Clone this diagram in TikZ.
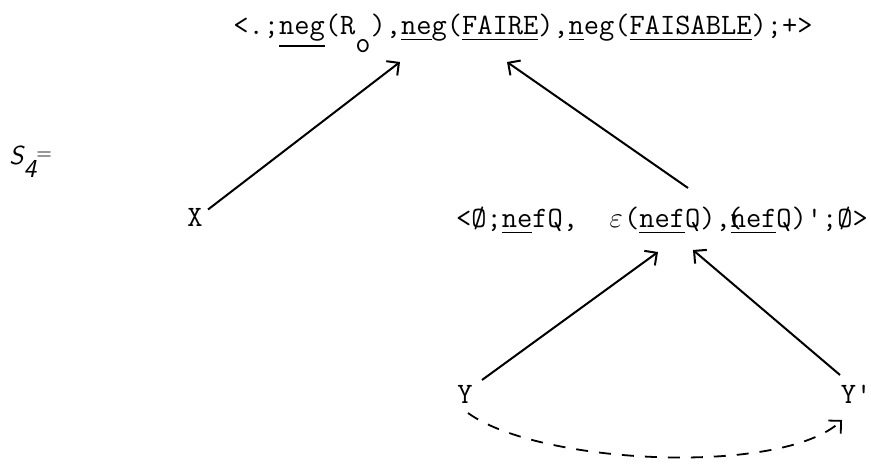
\documentclass[tikz,border=0pt]{standalone}
\usepackage{amsmath}
\usepackage{amssymb}
\usetikzlibrary{arrows.meta,calc}

\newcommand{\souligne}[1]{\underline{#1}}
\newcommand{\vide}{Ø}
\newcommand{\eps}{\makebox[0.525em]{$\varepsilon$}}
\newcommand{\parsurn}{\makebox[0pt][l]{\hspace{-0.12em}(}}

\begin{document}
\begin{tikzpicture}[
  x=0.5pt, y=-0.5pt,
  >={Straight Barb[length=4.5pt,width=9pt]},
  term/.style={font=\ttfamily\fontsize{14.8}{17}\selectfont, inner sep=1pt, anchor=base},
  titre/.style={font=\sffamily\itshape\fontsize{13}{15}\selectfont, inner sep=0pt, anchor=base west},
  lien/.style={->, line width=1pt},
  renvoi/.style={->, line width=0.9pt, dash pattern=on 6pt off 5.5pt},
]
\useasboundingbox (0,0) rectangle (871,464);

\node[titre] (s4) at (9,165) {S\raisebox{-6.5pt}{4}\raisebox{2.5pt}{\fontsize{10}{12}\selectfont\upshape =}};

\node[term] (haut) at (523,35)
  {<.;\souligne{neg}(R\raisebox{-0.6em}{o}),\souligne{ne}g(\souligne{FAIRE}),\souligne{n}eg(\souligne{FAISABLE});+>};
\node[term] (x) at (195,227) {X};
\node[term] (milieu) at (662,228)
  {<\vide;\souligne{ne}fQ,\ \ \eps(\souligne{nef}Q),\parsurn\souligne{nef}Q)';\vide>};
\node[term] (y) at (465,403) {Y};
\node[term] (yp) at (856,403) {Y'};

\draw[lien] ($(x.north east)+(3,3)$) -- ($(haut.base)+(-123,27)$);
\draw[lien] ($(milieu.base)+(26,-40)$) -- ($(haut.base)+(-16,27)$);
\draw[lien] ($(y.base)+(17,-23)$) -- ($(milieu.base)+(-4,24)$);
\draw[lien] ($(yp.base)+(-16,-28)$) -- ($(milieu.base)+(31,22)$);
\draw[renvoi] ($(y.base)+(3,10)$) .. controls +(72,52) and +(-59,56) .. ($(yp.base)+(-14,17)$);

\end{tikzpicture}
\end{document}
